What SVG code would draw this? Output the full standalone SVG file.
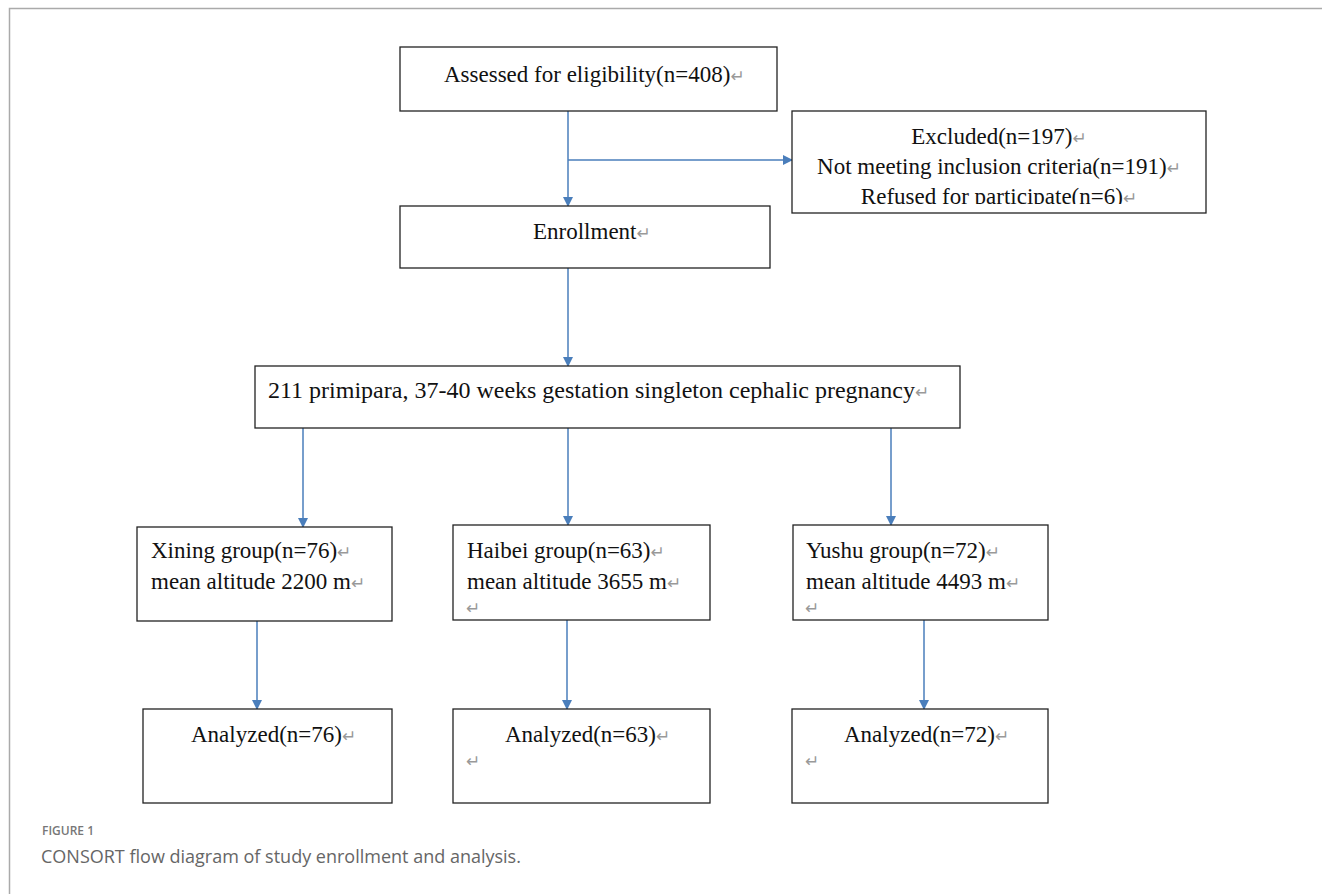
<svg xmlns="http://www.w3.org/2000/svg" width="1322" height="894" viewBox="0 0 1322 894">
<defs>
<marker id="ah" markerWidth="10" markerHeight="10" refX="9" refY="5" orient="auto" markerUnits="userSpaceOnUse">
<path d="M0,0 L10,5 L0,10 Z" fill="#4a7ebb"/>
</marker>
<clipPath id="exclip"><rect x="792" y="111" width="414" height="93"/></clipPath>
<style>
.box{fill:#fff;stroke:#222;stroke-width:1.3}
.t{font-family:"Liberation Serif","Times New Roman",serif;font-size:23px;fill:#111}
.m{fill:#999;font-family:"DejaVu Sans",sans-serif;font-size:17px}
.ca{stroke:#4a7ebb;stroke-width:1.5;fill:none;marker-end:url(#ah)}
</style>
</defs>
<rect width="1322" height="894" fill="#fff"/>
<path d="M9.5,894 V8.5 H1322" fill="none" stroke="#aaa" stroke-width="1.5"/>

<g id="connectors">
<line class="ca" x1="568" y1="111" x2="568" y2="206"/>
<line class="ca" x1="568" y1="160" x2="792" y2="160"/>
<line class="ca" x1="568" y1="268" x2="568" y2="366"/>
<line class="ca" x1="303" y1="428" x2="303" y2="527"/>
<line class="ca" x1="568" y1="428" x2="568" y2="525"/>
<line class="ca" x1="891" y1="428" x2="891" y2="525"/>
<line class="ca" x1="257" y1="621" x2="257" y2="709"/>
<line class="ca" x1="567" y1="620" x2="567" y2="709"/>
<line class="ca" x1="924" y1="620" x2="924" y2="709"/>
</g>

<g id="assessed">
<rect class="box" x="400" y="47" width="377" height="64"/>
<text class="t" x="444" y="82">Assessed for eligibility(n=408)<tspan class="m">↵</tspan></text>
</g>
<g id="excluded">
<rect class="box" x="792" y="111" width="414" height="102"/>
<g clip-path="url(#exclip)">
<text class="t" x="999" y="144" text-anchor="middle">Excluded(n=197)<tspan class="m">↵</tspan></text>
<text class="t" x="999" y="174" text-anchor="middle">Not meeting inclusion criteria(n=191)<tspan class="m">↵</tspan></text>
<text class="t" x="999" y="204" text-anchor="middle">Refused for participate(n=6)<tspan class="m">↵</tspan></text>
</g>
</g>
<g id="enrollment">
<rect class="box" x="400" y="206" width="370" height="62"/>
<text class="t" x="533" y="239">Enrollment<tspan class="m">↵</tspan></text>
</g>
<g id="cohort">
<rect class="box" x="255" y="366" width="705" height="62"/>
<text class="t" x="268" y="398" style="font-size:24px">211 primipara, 37-40 weeks gestation singleton cephalic pregnancy<tspan class="m">↵</tspan></text>
</g>
<g id="xining">
<rect class="box" x="137" y="527" width="255" height="94"/>
<text class="t" x="151" y="558">Xining group(n=76)<tspan class="m">↵</tspan></text>
<text class="t" x="151" y="589">mean altitude 2200 m<tspan class="m">↵</tspan></text>
</g>
<g id="haibei">
<rect class="box" x="453" y="525" width="257" height="95"/>
<text class="t" x="467" y="558">Haibei group(n=63)<tspan class="m">↵</tspan></text>
<text class="t" x="467" y="589">mean altitude 3655 m<tspan class="m">↵</tspan></text>
<text class="m" x="466" y="614">↵</text>
</g>
<g id="yushu">
<rect class="box" x="793" y="525" width="255" height="95"/>
<text class="t" x="806" y="558">Yushu group(n=72)<tspan class="m">↵</tspan></text>
<text class="t" x="806" y="589">mean altitude 4493 m<tspan class="m">↵</tspan></text>
<text class="m" x="805" y="614">↵</text>
</g>
<g id="analyzed1">
<rect class="box" x="143" y="709" width="249" height="94"/>
<text class="t" x="191" y="742">Analyzed(n=76)<tspan class="m">↵</tspan></text>
</g>
<g id="analyzed2">
<rect class="box" x="453" y="709" width="257" height="94"/>
<text class="t" x="505" y="742">Analyzed(n=63)<tspan class="m">↵</tspan></text>
<text class="m" x="466" y="767">↵</text>
</g>
<g id="analyzed3">
<rect class="box" x="792" y="709" width="256" height="94"/>
<text class="t" x="844" y="742">Analyzed(n=72)<tspan class="m">↵</tspan></text>
<text class="m" x="805" y="767">↵</text>
</g>

<g id="caption">
<text x="42" y="835" font-family="'Open Sans','Noto Sans',sans-serif" font-size="12px" font-weight="600" fill="#777">FIGURE 1</text>
<text x="41" y="863" font-family="'Open Sans','Noto Sans',sans-serif" font-size="18px" fill="#666">CONSORT flow diagram of study enrollment and analysis.</text>
</g>
</svg>
